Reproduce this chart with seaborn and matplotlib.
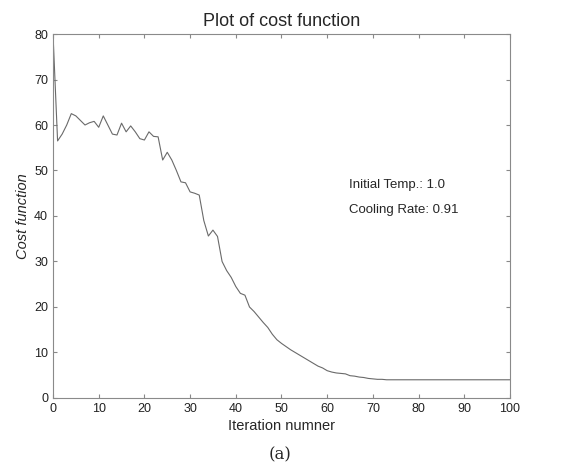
import numpy as np
import pandas as pd
import matplotlib
matplotlib.use("Agg")
import matplotlib.pyplot as plt
import seaborn as sns

# cost per iteration
iteration = list(range(0, 101))
cost = [80, 56.5, 58, 60, 62.5, 62, 61, 60, 60.5, 60.8,
        59.5, 62, 60, 58, 57.8, 60.4, 58.5, 59.8, 58.5, 57,
        56.7, 58.5, 57.5, 57.4, 52.3, 54, 52.3, 50, 47.5, 47.3,
        45.3, 45, 44.6, 39, 35.6, 36.9, 35.5, 30, 28, 26.5,
        24.5, 23, 22.6, 20, 19, 17.8, 16.6, 15.5, 14, 12.8,
        12, 11.3, 10.6, 10, 9.4, 8.8, 8.2, 7.6, 7, 6.6,
        6, 5.7, 5.5, 5.4, 5.3, 4.9, 4.8, 4.6, 4.5, 4.3,
        4.2, 4.1, 4.1, 4.0, 4.0, 4.0, 4.0, 4.0, 4.0, 4.0,
        4.0, 4.0, 4.0, 4.0, 4.0, 4.0, 4.0, 4.0, 4.0, 4.0,
        4.0, 4.0, 4.0, 4.0, 4.0, 4.0, 4.0, 4.0, 4.0, 4.0,
        4.0]
xticks = [0, 10, 20, 30, 40, 50, 60, 70, 80, 90, 100]
yticks = [0, 10, 20, 30, 40, 50, 60, 70, 80]
note = ["Initial Temp.: 1.0", "Cooling Rate: 0.91"]

df = pd.DataFrame({"Iteration": iteration, "Cost": cost})

sns.set_style("ticks")
plt.rcParams['font.family'] = ['Liberation Sans', 'DejaVu Sans']

fig = plt.figure(figsize=(5.61, 4.73), dpi=100)
ax = fig.add_axes([0.0945, 0.1586, 0.8145, 0.7695])

sns.lineplot(data=df, x="Iteration", y="Cost", ax=ax, color="#6a6a6a", linewidth=0.8)

ax.set_xlim(0, 100)
ax.set_ylim(0, 80)
ax.set_xticks(xticks)
ax.set_yticks(yticks)
ax.tick_params(direction="in", length=3, labelsize=9, colors="#888888", labelcolor="#222222",
               top=True, right=True)
for s in ax.spines.values():
    s.set_color("#8a8a8a")
    s.set_linewidth(0.8)

ax.set_title("Plot of cost function", fontsize=13, pad=6)
ax.set_xlabel("Iteration numner", fontsize=10.5, labelpad=3)
ax.set_ylabel("Cost function", fontsize=10.5, style="italic", labelpad=3)

ax.text(64.8, 46.8, note[0], fontsize=9.5, va="center")
ax.text(64.8, 41.3, note[1], fontsize=9.5, va="center")

fig.text(0.5, 0.038, "(a)", fontsize=12, family="DejaVu Serif", ha="center", va="center")

fig.savefig("out.png", dpi=100)
